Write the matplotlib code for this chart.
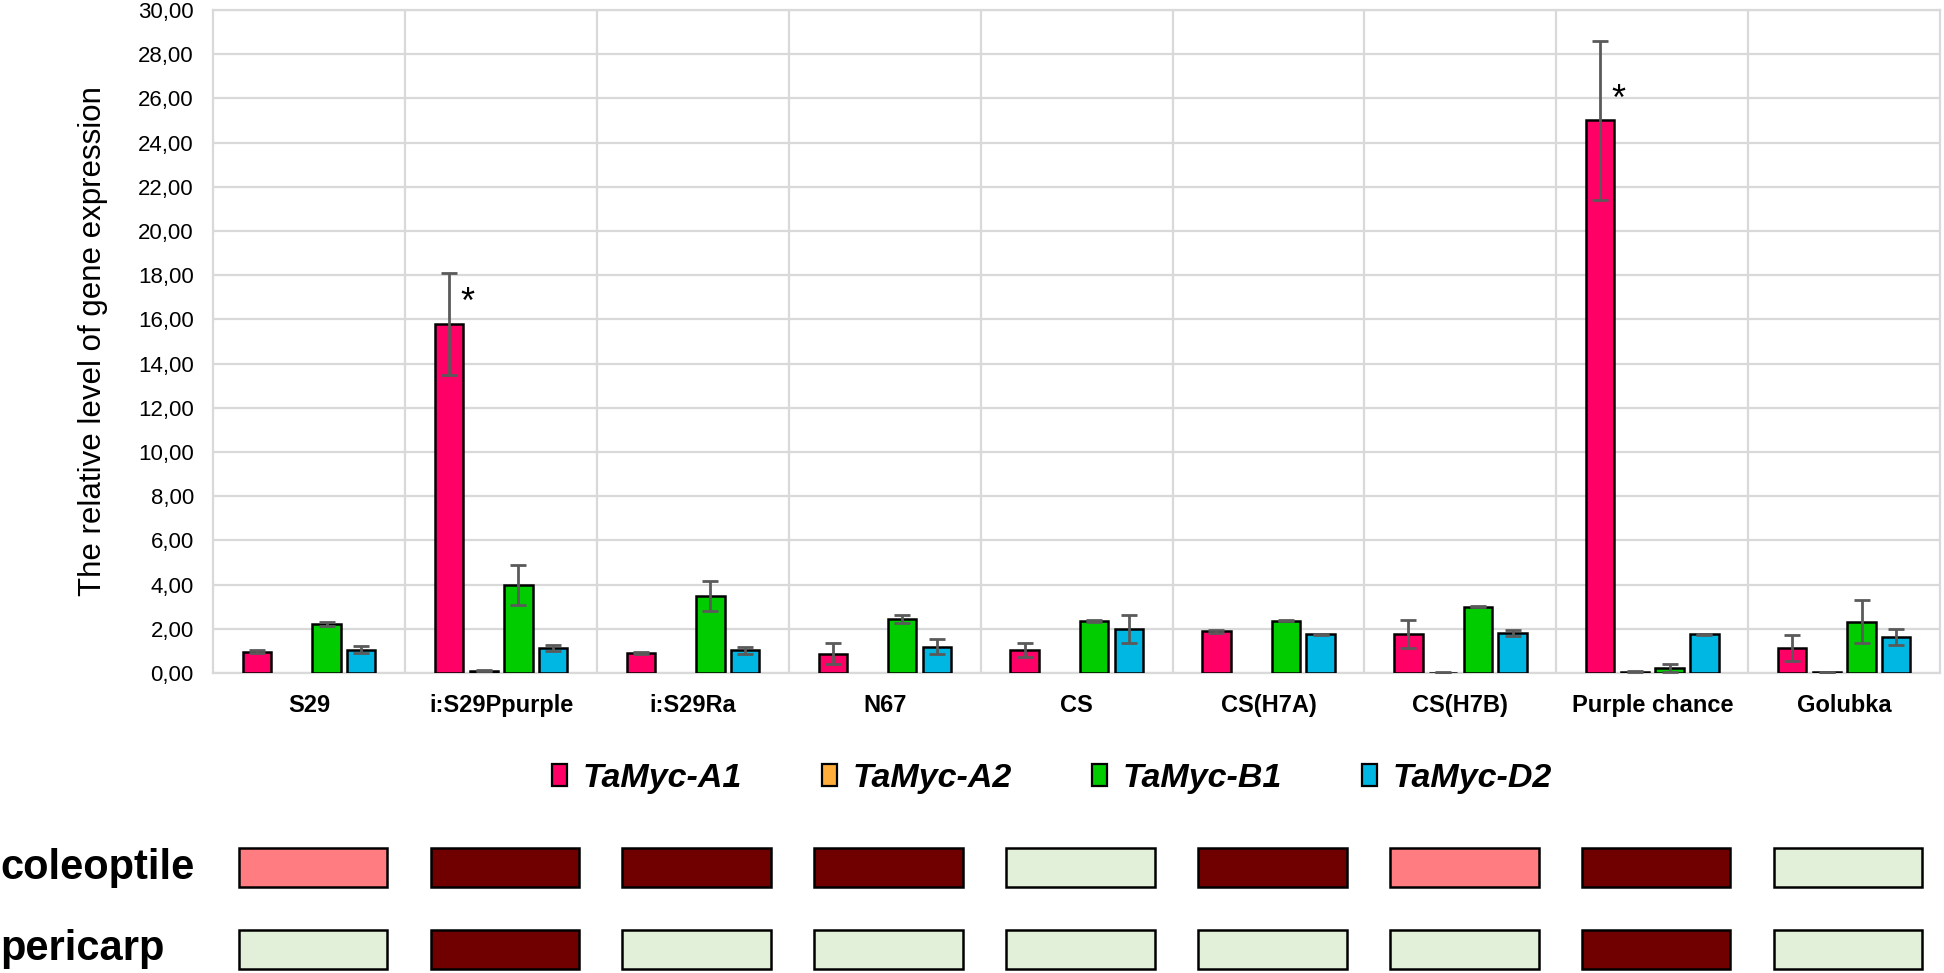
import matplotlib
matplotlib.use("Agg")
import matplotlib.pyplot as plt
import numpy as np
from matplotlib.patches import Rectangle
from matplotlib.transforms import blended_transform_factory

plt.rcParams['font.family'] = ['Liberation Sans', 'DejaVu Sans']

categories = ["S29", "i:S29Ppurple", "i:S29Ra", "N67", "CS", "CS(H7A)", "CS(H7B)", "Purple chance", "Golubka"]
series_names = ["TaMyc-A1", "TaMyc-A2", "TaMyc-B1", "TaMyc-D2"]

a1 = [0.97, 15.80, 0.90, 0.88, 1.05, 1.88, 1.77, 25.00, 1.14]
a1_err = [0.05, 2.30, 0.05, 0.48, 0.33, 0.05, 0.65, 3.60, 0.60]
a2 = [0.00, 0.10, 0.00, 0.00, 0.00, 0.00, 0.02, 0.05, 0.03]
a2_err = [0.00, 0.02, 0.00, 0.00, 0.00, 0.00, 0.01, 0.02, 0.01]
b1 = [2.21, 3.98, 3.49, 2.44, 2.35, 2.36, 3.00, 0.23, 2.33]
b1_err = [0.10, 0.92, 0.67, 0.19, 0.03, 0.02, 0.02, 0.20, 0.96]
d2 = [1.06, 1.13, 1.02, 1.20, 2.00, 1.76, 1.82, 1.76, 1.65]
d2_err = [0.15, 0.13, 0.17, 0.33, 0.62, 0.02, 0.13, 0.02, 0.36]

significant = ["i:S29Ppurple", "Purple chance"]

yticks = [0, 2, 4, 6, 8, 10, 12, 14, 16, 18, 20, 22, 24, 26, 28, 30]

# pigmentation: 0 = none (light), 1 = weak (salmon), 2 = strong (dark)
coleoptile = [1, 2, 2, 2, 0, 2, 1, 2, 0]
pericarp = [0, 2, 0, 0, 0, 0, 0, 2, 0]

series_colors = ["#ff0066", "#ffad3b", "#00cc00", "#00b7e3"]
pig_colors = {0: "#e2f0d9", 1: "#ff7c80", 2: "#700000"}

fig = plt.figure(figsize=(19.44, 9.73), dpi=100)
ax = fig.add_axes([0.1097, 0.3083, 0.998 - 0.1097, 0.9898 - 0.3083])

x = np.arange(len(categories))
step = 0.181
width = 0.148
vals = [a1, a2, b1, d2]
errs = [a1_err, a2_err, b1_err, d2_err]
for i, (v, e, c, name) in enumerate(zip(vals, errs, series_colors, series_names)):
    off = (i - 1.5) * step
    lws = [1.8 if val > 0 else 0 for val in v]
    ax.bar(x + off, v, width, color=c, edgecolor="black", linewidth=lws, zorder=3, label=name)
    mask = np.array(v) > 0
    ax.errorbar((x + off)[mask], np.array(v)[mask], yerr=np.array(e)[mask], fmt="none",
                ecolor="#5a5a5a", elinewidth=2, capsize=6, capthick=2, zorder=4)

for cat in significant:
    idx = categories.index(cat)
    ax.text(idx - 1.5 * step + 0.095, a1[idx] + 0.9, "*",
            fontsize=26, ha="center", va="center", zorder=5)

ax.set_xlim(-0.5, len(categories) - 0.5)
ax.set_ylim(0, 30)
ax.set_yticks(yticks)
ax.set_yticklabels([f"{t:.2f}".replace(".", ",") for t in yticks], fontsize=16)
ax.set_xticks(x)
ax.set_xticklabels(categories, fontsize=17, fontweight="bold")
ax.set_xticks(np.arange(0.5, len(categories) - 0.5, 1.0), minor=True)
ax.tick_params(axis="both", which="both", length=0)
ax.tick_params(axis="y", pad=14)
ax.tick_params(axis="x", pad=15)
ax.grid(axis="y", which="major", color="#d9d9d9", linewidth=1.6, zorder=0)
ax.grid(axis="x", which="minor", color="#d9d9d9", linewidth=1.6, zorder=0)
ax.grid(axis="x", which="major", visible=False)
for s in ax.spines.values():
    s.set_color("#d9d9d9")
    s.set_linewidth(1.6)
ax.set_axisbelow(True)

pos = ax.get_position()
fig.text(0.048, (pos.y0 + pos.y1) / 2, "The relative level of gene expression",
         rotation=90, ha="center", va="center", fontsize=22.5)

# legend
handles = [Rectangle((0, 0), 1, 1, facecolor=c, edgecolor="black", linewidth=1.6) for c in series_colors]
fig.legend(handles, series_names, loc="center", bbox_to_anchor=(0.541, 0.2), ncol=4,
           frameon=False, prop={"weight": "bold", "style": "italic", "size": 24.5},
           handlelength=0.45, handleheight=0.6, handletextpad=0.45, columnspacing=2.35)

# pigmentation boxes
tr = blended_transform_factory(ax.transData, fig.transFigure)
box_w = 0.775
rows = [(coleoptile, 0.0879, 0.1287, "coleoptile"), (pericarp, 0.0038, 0.0446, "pericarp")]
for data, y0, y1, label in rows:
    for i, val in enumerate(data):
        r = Rectangle((i - box_w / 2 + 0.02, y0), box_w, y1 - y0, transform=tr,
                      facecolor=pig_colors[val], edgecolor="black", linewidth=1.8, clip_on=False)
        ax.add_patch(r)
    fig.text(0.0, (y0 + y1) / 2, label, ha="left", va="center", fontsize=30, fontweight="bold")

fig.savefig("out.png", dpi=100)
